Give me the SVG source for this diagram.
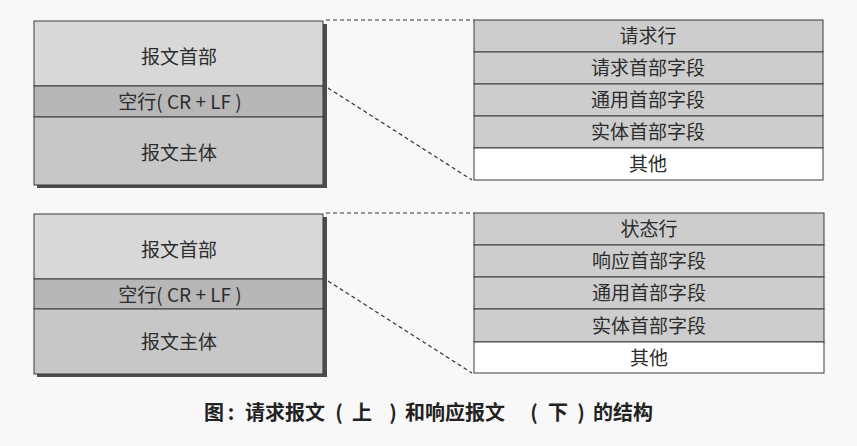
<svg xmlns="http://www.w3.org/2000/svg" width="857" height="446" viewBox="0 0 857 446">
<style>
.bg{fill:#f8f8f8}
.shadow{fill:#4d4d4d}
.cell{stroke:#3a3a3a;stroke-width:1}
.hdr{fill:#d8d8d8}
.blank{fill:#b7b7b7}
.body{fill:#c7c7c7}
.fld{fill:#cdcdcd}
.other{fill:#ffffff}
.lbl{font-family:"Noto Sans CJK SC","Noto Sans",sans-serif;font-size:19px;fill:#2c2c2c;text-anchor:middle}
.dash{stroke:#333;stroke-width:1.2;stroke-dasharray:4 3;fill:none}
.cap{font-family:"Noto Sans CJK SC","Noto Sans",sans-serif;font-size:20px;font-weight:bold;fill:#222;text-anchor:middle}
</style>
<rect class="bg" x="0" y="0" width="857" height="446"/>

<g id="connectors">
<line class="dash" x1="326" y1="20" x2="474" y2="20"/>
<line class="dash" x1="328" y1="88" x2="472" y2="180"/>
<line class="dash" x1="326" y1="213" x2="474" y2="213"/>
<line class="dash" x1="328" y1="281" x2="472" y2="373"/>
</g>

<g id="request-message">
<rect class="shadow" x="37" y="24" width="290" height="164"/>
<rect class="cell hdr" x="34" y="21" width="289" height="65"/>
<rect class="cell blank" x="34" y="86" width="289" height="31"/>
<rect class="cell body" x="34" y="117" width="289" height="68"/>
<text class="lbl" x="179" y="64">报文首部</text>
<text class="lbl" x="180" y="109">空行( CR + LF )</text>
<text class="lbl" x="179" y="160">报文主体</text>
</g>

<g id="request-header">
<rect class="cell fld" x="474" y="20" width="349" height="32"/>
<rect class="cell fld" x="474" y="52" width="349" height="32"/>
<rect class="cell fld" x="474" y="84" width="349" height="32"/>
<rect class="cell fld" x="474" y="116" width="349" height="32"/>
<rect class="cell other" x="474" y="148" width="349" height="32"/>
<text class="lbl" x="648" y="43">请求行</text>
<text class="lbl" x="648" y="75">请求首部字段</text>
<text class="lbl" x="648" y="107">通用首部字段</text>
<text class="lbl" x="648" y="139">实体首部字段</text>
<text class="lbl" x="648" y="171">其他</text>
</g>

<g id="response-message">
<rect class="shadow" x="37" y="217" width="290" height="160"/>
<rect class="cell hdr" x="34" y="214" width="289" height="65"/>
<rect class="cell blank" x="34" y="279" width="289" height="30"/>
<rect class="cell body" x="34" y="309" width="289" height="65"/>
<text class="lbl" x="179" y="257">报文首部</text>
<text class="lbl" x="180" y="302">空行( CR + LF )</text>
<text class="lbl" x="179" y="349">报文主体</text>
</g>

<g id="response-header">
<rect class="cell fld" x="474" y="213" width="350" height="32"/>
<rect class="cell fld" x="474" y="245" width="350" height="32"/>
<rect class="cell fld" x="474" y="277" width="350" height="32"/>
<rect class="cell fld" x="474" y="309" width="350" height="33"/>
<rect class="cell other" x="474" y="342" width="350" height="31"/>
<text class="lbl" x="649" y="236">状态行</text>
<text class="lbl" x="649" y="268">响应首部字段</text>
<text class="lbl" x="649" y="300">通用首部字段</text>
<text class="lbl" x="649" y="333">实体首部字段</text>
<text class="lbl" x="649" y="365">其他</text>
</g>

<g id="caption">
<text class="cap" y="420"><tspan x="214">图</tspan><tspan x="231">:</tspan><tspan x="285">请求报文</tspan><tspan x="339">(</tspan><tspan x="362">上</tspan><tspan x="393">)</tspan><tspan x="455">和响应报文</tspan><tspan x="534">(</tspan><tspan x="558">下</tspan><tspan x="581">)</tspan><tspan x="623">的结构</tspan></text>
</g>
</svg>
